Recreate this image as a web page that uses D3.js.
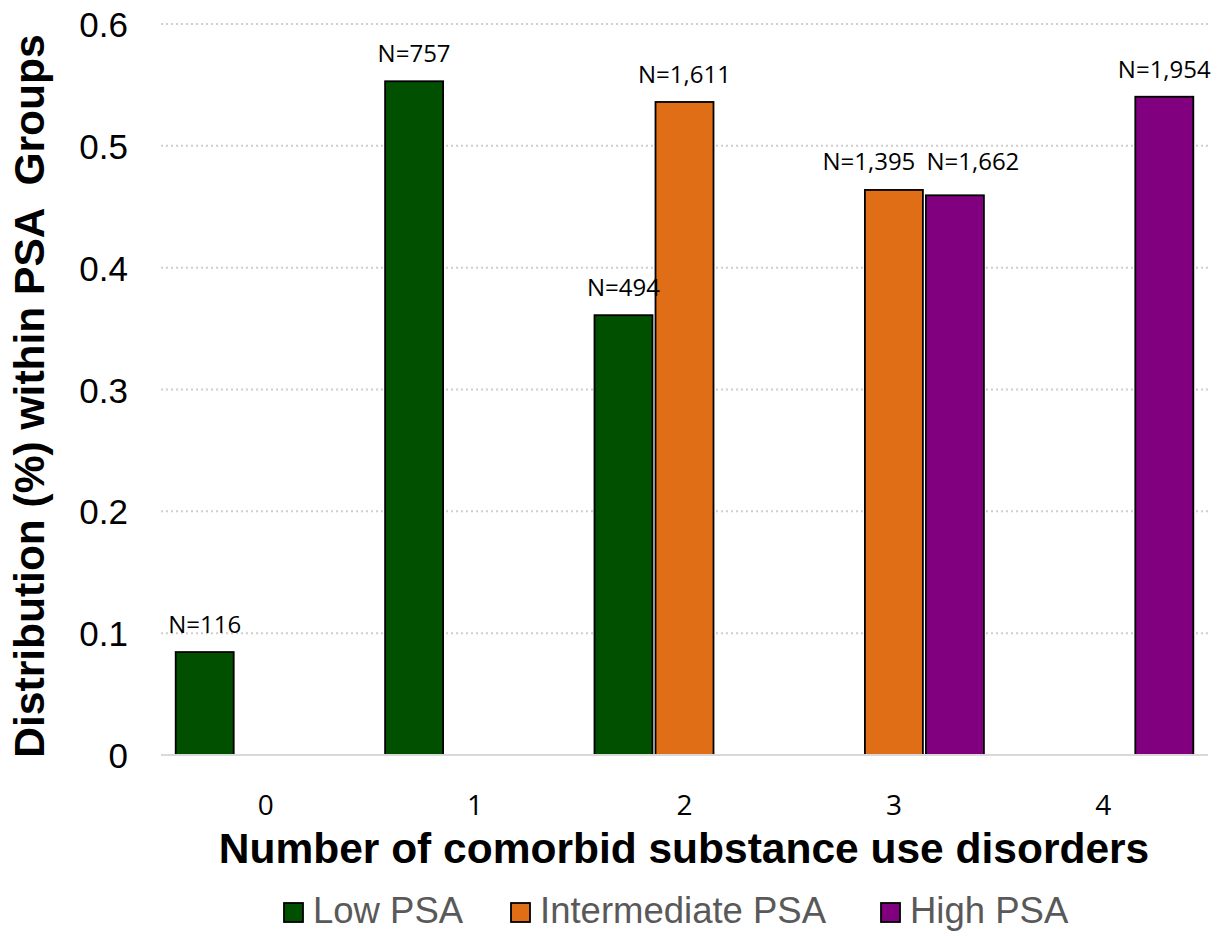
<!DOCTYPE html>
<html>
<head>
<meta charset="utf-8">
<script src="https://cdn.jsdelivr.net/npm/d3@7"></script>
<style>
  body { margin: 0; background: #fff; }
  svg { display: block; }
</style>
</head>
<body>
<div id="vis"></div>
<script>
// chart data
const categories = ["0", "1", "2", "3", "4"];
const groups = ["Low PSA", "Intermediate PSA", "High PSA"];
const lowPSA = [0.0845, 0.553, 0.361, 0, 0];
const intermediatePSA = [0, 0, 0.536, 0.4638, 0];
const highPSA = [0, 0, 0, 0.4594, 0.5403];
const lowLabels = ["N=116", "N=757", "N=494", "", ""];
const intermediateLabels = ["", "", "N=1,611", "N=1,395", ""];
const highLabels = ["", "", "", "N=1,662", "N=1,954"];
const yTicks = [0, 0.1, 0.2, 0.3, 0.4, 0.5, 0.6];

const colors = ["#005000", "#e06e17", "#800080"];

// dimensions of the frame
const FRAME_WIDTH = 1226;
const FRAME_HEIGHT = 936;
const MARGINS = {left: 161, right: 18, top: 24, bottom: 181};
const VIS_WIDTH = FRAME_WIDTH - MARGINS.left - MARGINS.right;
const VIS_HEIGHT = FRAME_HEIGHT - MARGINS.top - MARGINS.bottom;

const FRAME = d3.select("#vis")
  .append("svg")
  .attr("width", FRAME_WIDTH)
  .attr("height", FRAME_HEIGHT);

// rows: one per category, one value per group
const series = [lowPSA, intermediatePSA, highPSA];
const labels = [lowLabels, intermediateLabels, highLabels];
const rows = [];
categories.forEach((c, i) => {
  groups.forEach((g, j) => {
    rows.push({cat: c, group: g, gi: j, value: series[j][i], label: labels[j][i]});
  });
});

// scales
const X_SCALE = d3.scaleBand()
  .domain(categories)
  .range([0, VIS_WIDTH]);

const BAR_W = 58;
const BAR_STEP = 61;

const Y_SCALE = d3.scaleLinear()
  .domain([0, 0.6])
  .range([VIS_HEIGHT, 0]);

const plot = FRAME.append("g")
  .attr("transform", "translate(" + MARGINS.left + "," + MARGINS.top + ")");

// dotted gridlines
plot.append("g")
  .selectAll("line")
  .data(yTicks.filter(d => d > 0))
  .enter()
  .append("line")
    .attr("x1", 0)
    .attr("x2", VIS_WIDTH)
    .attr("y1", d => Y_SCALE(d))
    .attr("y2", d => Y_SCALE(d))
    .attr("stroke", "#cfcfcf")
    .attr("stroke-width", 2)
    .attr("stroke-dasharray", "2,3");

// y axis labels
const yAxis = plot.append("g")
  .call(d3.axisLeft(Y_SCALE).tickValues(yTicks).tickSize(0).tickPadding(33)
    .tickFormat(d => d === 0 ? "0" : d3.format(".1f")(d)));
yAxis.select(".domain").remove();
yAxis.selectAll("text")
  .attr("font-family", "Liberation Sans, Arial, sans-serif")
  .attr("font-size", "35px")
  .attr("fill", "#000")
  .attr("dy", "0.36em");

// bars
const center = d => X_SCALE(d.cat) + X_SCALE.bandwidth() / 2 + (d.gi - 1) * BAR_STEP;
const bars = rows.filter(d => d.value > 0);

plot.selectAll("rect.bar")
  .data(bars)
  .enter()
  .append("rect")
    .attr("class", "bar")
    .attr("x", d => center(d) - BAR_W / 2)
    .attr("y", d => Y_SCALE(d.value))
    .attr("width", BAR_W)
    .attr("height", d => VIS_HEIGHT - Y_SCALE(d.value))
    .attr("fill", d => colors[d.gi])
    .attr("stroke", "#000")
    .attr("stroke-width", 1.8);

// baseline
plot.append("line")
  .attr("x1", 0)
  .attr("x2", VIS_WIDTH)
  .attr("y1", VIS_HEIGHT)
  .attr("y2", VIS_HEIGHT)
  .attr("stroke", "#d9d9d9")
  .attr("stroke-width", 2);

// small nudges for the two crowded labels at category 3
const labelShift = {"N=1,395": [-25, -1], "N=1,662": [18, -6]};

plot.selectAll("text.nlabel")
  .data(bars)
  .enter()
  .append("text")
    .attr("class", "nlabel")
    .attr("x", d => center(d) + (labelShift[d.label] ? labelShift[d.label][0] : 0))
    .attr("y", d => Y_SCALE(d.value) - 19 + (labelShift[d.label] ? labelShift[d.label][1] : 0))
    .attr("text-anchor", "middle")
    .attr("font-family", "Open Sans, sans-serif")
    .attr("font-size", "24px")
    .attr("fill", "#000")
    .text(d => d.label);

// x axis labels
const xAxis = plot.append("g")
  .attr("transform", "translate(0," + VIS_HEIGHT + ")")
  .call(d3.axisBottom(X_SCALE).tickSize(0).tickPadding(60));
xAxis.select(".domain").remove();
xAxis.selectAll("text")
  .attr("font-family", "Open Sans, sans-serif")
  .attr("font-size", "28px")
  .attr("fill", "#000")
  .attr("dy", "0");

// axis titles
FRAME.append("text")
  .attr("x", 684)
  .attr("y", 863)
  .attr("text-anchor", "middle")
  .attr("font-family", "Liberation Sans, Arial, sans-serif")
  .attr("font-weight", "bold")
  .attr("font-size", "42.5px")
  .text("Number of comorbid substance use disorders");

FRAME.append("text")
  .attr("transform", "translate(44,396) rotate(-90)")
  .attr("text-anchor", "middle")
  .attr("font-family", "Liberation Sans, Arial, sans-serif")
  .attr("font-weight", "bold")
  .attr("font-size", "42.5px")
  .style("white-space", "pre")
  .text("Distribution (%) within PSA  Groups");

// legend
const legendX = [284, 511, 881];
const legend = FRAME.append("g")
  .selectAll("g")
  .data(groups)
  .enter()
  .append("g")
    .attr("transform", (d, i) => "translate(" + legendX[i] + ",903)");
legend.append("rect")
  .attr("width", 19)
  .attr("height", 19)
  .attr("fill", (d, i) => colors[i])
  .attr("stroke", "#000")
  .attr("stroke-width", 1.8);
legend.append("text")
  .attr("x", 29)
  .attr("y", 20)
  .attr("font-family", "Liberation Sans, Arial, sans-serif")
  .attr("font-size", "36.5px")
  .attr("fill", "#595959")
  .text(d => d);
</script>
</body>
</html>
